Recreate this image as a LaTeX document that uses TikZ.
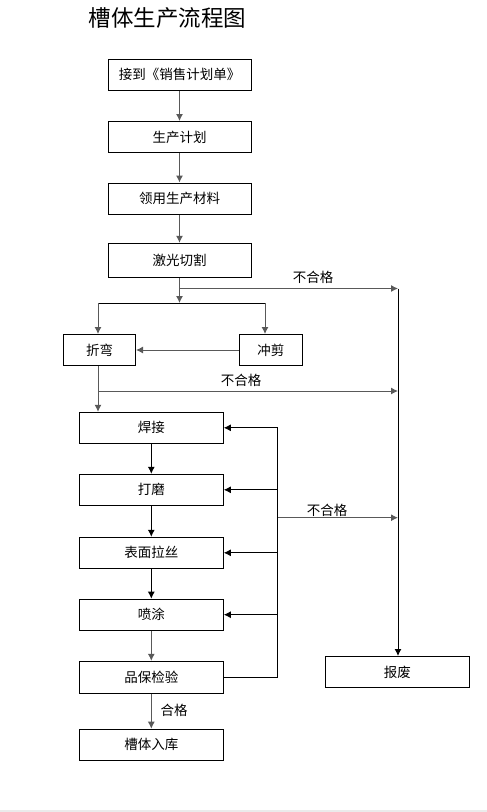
\documentclass[tikz,border=0pt]{standalone}
\usepackage{fontspec}
\setmainfont{Noto Sans CJK SC}
\usetikzlibrary{arrows.meta}
\begin{document}
\begin{tikzpicture}[x=1pt,y=-1pt,>={Latex[length=7pt,width=7pt]},
    box/.style={draw=black,line width=1pt,inner sep=0pt,minimum height=31pt,
                font=\fontsize{13.5}{14}\selectfont},
    conn/.style={draw=black!65,line width=1pt},
    tag/.style={inner sep=0pt,font=\fontsize{13.5}{14}\selectfont}]
    \useasboundingbox (0,0) rectangle (487,812);
    \fill[black!8] (0,810) rectangle (487,812);

    % title
    \node (title) at (167.5,18) {\fontsize{22.5}{23}\selectfont 槽体生产流程图};

    % upper column
    \node[box,minimum width=143pt] (order)    at (179.5,74.5)  {接到《销售计划单》};
    \node[box,minimum width=143pt] (plan)     at (179.5,137)   {生产计划};
    \node[box,minimum width=143pt] (material) at (179.5,198.5) {领用生产材料};
    \node[box,minimum width=143pt,minimum height=34pt] (laser) at (179.5,260.3) {激光切割};

    % bending and punching
    \node[box,minimum width=72pt] (bend)  at (99.5,350)  {折弯};
    \node[box,minimum width=63pt] (punch) at (270.8,350) {冲剪};

    % lower column
    \node[box,minimum width=144pt] (weld)    at (151.3,427.8) {焊接};
    \node[box,minimum width=144pt] (grind)   at (151.3,489.8) {打磨};
    \node[box,minimum width=144pt] (brush)   at (151.3,552.8) {表面拉丝};
    \node[box,minimum width=144pt] (spray)   at (151.3,614.7) {喷涂};
    \node[box,minimum width=144pt,minimum height=32pt] (inspect) at (151.3,677.3) {品保检验};
    \node[box,minimum width=144pt] (store)   at (151.3,744.7) {槽体入库};

    % scrap
    \node[box,minimum width=144pt] (scrap) at (397.3,672) {报废};

    % helper points
    \coordinate (split)    at (179.5,303);
    \coordinate (splitL)   at (98,303);
    \coordinate (splitR)   at (265,303);
    \coordinate (fail1)    at (179.5,288.5);
    \coordinate (scrapTop) at (398,288.5);
    \coordinate (fail2)    at (98,391);
    \coordinate (back)     at (277.3,427.8);
    \coordinate (fail3)    at (277.3,517.7);

    % upper arrows
    \draw[conn,->] (order) -- (plan);
    \draw[conn,->] (plan) -- (material);
    \draw[conn,->] (material) -- (laser);
    \draw[conn,->] (laser.south) -- (split);
    \draw[line width=1pt] (splitL) -- (splitR);
    \draw[conn,->] (splitL) -- (splitL |- bend.north);
    \draw[conn,->] (splitR) -- (splitR |- punch.north);
    \draw[conn,->] (punch) -- (bend);
    \draw[conn,->] (bend.south -| splitL) -- (splitL |- weld.north);

    % rejects
    \draw[conn,->] (fail1) -- (scrapTop);
    \draw[line width=1pt,->] (scrapTop) -- (scrapTop |- scrap.north);
    \draw[conn,->] (fail2) -- (fail2 -| scrapTop);
    \draw[conn,->] (fail3) -- (fail3 -| scrapTop);
    \node[tag] (no1) at (313,277)   {不合格};
    \node[tag] (no2) at (241,380.5) {不合格};
    \node[tag] (no3) at (327,510)   {不合格};

    % lower arrows
    \draw[line width=1pt,->] (weld) -- (grind);
    \draw[line width=1pt,->] (grind) -- (brush);
    \draw[line width=1pt,->] (brush) -- (spray);
    \draw[conn,->] (spray) -- (inspect);
    \draw[conn,->] (inspect) -- (store);
    \node[tag] (ok) at (174,710) {合格};

    % feedback loop
    \draw[line width=1pt,->] (inspect.east) -| (back) -- (weld.east);
    \foreach \n in {grind,brush,spray}
        \draw[line width=1pt,->] (back |- \n.east) -- (\n.east);
\end{tikzpicture}
\end{document}
